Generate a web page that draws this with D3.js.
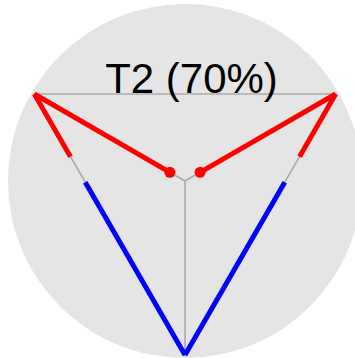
<!DOCTYPE html>
<html>
<head>
<meta charset="utf-8">
<script src="https://cdn.jsdelivr.net/npm/d3@7"></script>
<style>
  html, body { margin: 0; padding: 0; background: #ffffff; }
  svg { display: block; }
</style>
</head>
<body>
<svg id="chart" width="355" height="358"></svg>
<script>
// ---- data ----
const title = "T2 (70%)";
const vertexNames = ["left", "right", "bottom"];
const vertexAngles = [210, 330, 90];           // degrees, screen coords (y down)
// red spokes: from vertex toward centre, fraction of spoke covered
const spokeVertices = ["left", "right"];
const spokeFractions = [0.9, 0.9];
// edges toward the bottom vertex: red part from the top vertex, blue part to bottom
const edgeFrom = ["left", "right"];
const edgeTo = ["bottom", "bottom"];
const edgeRedEnd = [0.24, 0.24];
const edgeBlueStart = [0.338, 0.338];

// ---- layout ----
const cx = 185, cy = 181;
const svg = d3.select("#chart");

const rScale = d3.scaleLinear().domain([0, 1]).range([0, 174]);   // vertex radius
const bgRadius = 177;
const angle = d3.scaleOrdinal().domain(vertexNames).range(vertexAngles.map(a => a * Math.PI / 180));

function pt(name, frac) {   // point on spoke from centre
  const a = angle(name), r = rScale(frac);
  return [cx + r * Math.cos(a), cy + r * Math.sin(a)];
}
const V = name => pt(name, 1);
const along = (p, q, t) => { const f = d3.interpolateArray(p, q)(t); return [f[0], f[1]]; };
const line = d3.line();

svg.append("circle")
  .attr("cx", cx).attr("cy", cy).attr("r", bgRadius)
  .attr("fill", "#e5e5e5");

const grid = svg.append("g").attr("stroke", "#aaaaaa").attr("stroke-width", 1.6).attr("fill", "none");
// triangle edges
grid.append("path").attr("d", line([V("left"), V("right"), V("bottom"), V("left")]));
// spokes
vertexNames.forEach(n => grid.append("path").attr("d", line([[cx, cy], V(n)])));

// red spokes with dots
spokeVertices.forEach((n, i) => {
  const end = along(V(n), [cx, cy], spokeFractions[i]);
  svg.append("path").attr("d", line([V(n), end]))
    .attr("stroke", "#ff0000").attr("stroke-width", 5).attr("fill", "none");
  svg.append("circle").attr("cx", end[0]).attr("cy", end[1]).attr("r", 5.5).attr("fill", "#ff0000");
});

// edge segments
edgeFrom.forEach((n, i) => {
  const a = V(n), b = V(edgeTo[i]);
  svg.append("path").attr("d", line([along(a, b, 0), along(a, b, edgeRedEnd[i])]))
    .attr("stroke", "#ff0000").attr("stroke-width", 5).attr("fill", "none");
  svg.append("path").attr("d", line([along(a, b, edgeBlueStart[i]), along(a, b, 1)]))
    .attr("stroke", "#0000ff").attr("stroke-width", 5).attr("fill", "none");
});

svg.append("text")
  .attr("x", 191.5).attr("y", 92.5)
  .attr("text-anchor", "middle")
  .attr("font-family", "Liberation Sans, Arial, sans-serif")
  .attr("font-size", 42)
  .attr("fill", "#000000")
  .text(title);
</script>
</body>
</html>
